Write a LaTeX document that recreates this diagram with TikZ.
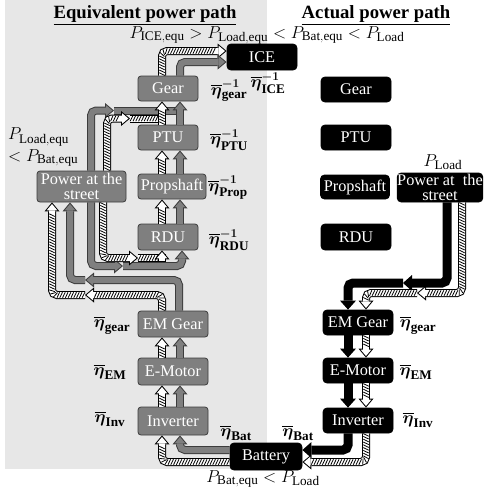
\documentclass[tikz,border=0pt]{standalone}
\usepackage{amsmath}
\usepackage{fontspec}
\setmainfont{Liberation Serif}
\usetikzlibrary{arrows.meta,decorations.markings}
\definecolor{bgc}{RGB}{231,231,231}
\definecolor{boxg}{RGB}{127,127,127}
\definecolor{bord}{RGB}{60,60,60}
\DeclareMathSizes{16.5}{16.5}{13.2}{10}
\DeclareMathSizes{18}{18}{14}{11}
\newcommand\boxfont{\fontsize{16.3}{17.5}\selectfont}
\newcommand\lblfont{\fontsize{16.5}{18}\selectfont}
\newcommand\etainv[1]{$\overline{\boldsymbol{\eta}}^{\boldsymbol{-1}}_{\mathbf{#1}}$}
\newcommand\etaone[1]{$\overline{\boldsymbol{\eta}}_{\mathbf{#1}}$}
\tikzset{
  arrbase/.style={rounded corners=5pt},
  garrout/.style={arrbase, line width=8pt, draw=bord, -{Triangle[width=15pt,length=9pt,line width=0pt]}},
  garrin/.style={arrbase, line width=6pt, draw=boxg, shorten >=1.6pt, -{Triangle[width=10.7pt,length=6.4pt,line width=0pt]}},
  harrout/.style={arrbase, line width=8pt, draw=black, -{Triangle[width=15pt,length=9pt,line width=0pt]}},
  harrin/.style={arrbase, line width=6pt, draw=white, shorten >=1.6pt, -{Triangle[width=10.7pt,length=6.4pt,line width=0pt]}},
  hstripes/.style={arrbase, decorate, decoration={markings,
     mark=between positions 1.5pt and -10pt step 2.8pt with {\draw[black,line width=0.8pt] (-1.3pt,-2.7pt) -- (1.3pt,2.7pt);}}},
  hstripesall/.style={arrbase, decorate, decoration={markings,
     mark=between positions 1.5pt and -1.5pt step 2.8pt with {\draw[black,line width=0.8pt] (-1.3pt,-2.7pt) -- (1.3pt,2.7pt);}}},
  karr/.style={arrbase, line width=9pt, draw=black, -{Triangle[width=16pt,length=9pt,line width=0pt]}},
  gbox/.style={draw=bord, fill=boxg, rounded corners=3pt, text=white, font=\boxfont, inner sep=0pt, line width=0.8pt, align=center},
  kbox/.style={draw=black, fill=black, rounded corners=4pt, text=white, font=\boxfont, inner sep=0pt, line width=0.8pt, align=center},
  lbl/.style={font=\lblfont, inner sep=0pt},
  ttl/.style={font=\fontsize{18.7}{20}\selectfont\bfseries, inner sep=0pt, anchor=base}
}
\newcommand\GArrow[1]{\draw[garrout] #1; \draw[garrin] #1;}
\newcommand\HArrow[1]{\draw[harrout] #1; \draw[harrin] #1; \path[hstripes] #1;}
\newcommand\KArrow[1]{\draw[karr] #1;}
\newcommand\GShaft[1]{\draw[arrbase, line width=8pt, draw=bord] #1; \draw[arrbase, line width=6pt, draw=boxg] #1;}
\newcommand\HShaft[1]{\draw[arrbase, line width=8pt, draw=black] #1; \draw[arrbase, line width=6pt, draw=white] #1; \path[hstripesall] #1;}
\begin{document}
\begin{tikzpicture}[x=1pt,y=-1pt]
\useasboundingbox (0,0) rectangle (483,499);
\fill[bgc] (5,0) rectangle (267,469);

% titles
\node[ttl] (t1) at (145,18) {\underline{Equivalent power path}};
\node[ttl] (t2) at (376,18) {\underline{Actual power path}};
\node[lbl, anchor=base] (rel) at (267,38) {$P_{\mathrm{ICE,equ}} > P_{\mathrm{Load,equ}} < P_{\mathrm{Bat,equ}} < P_{\mathrm{Load}}$};

% left boxes
\node[kbox, minimum width=70pt, minimum height=26pt] (ice) at (262,57) {ICE};
\node[gbox, minimum width=60pt, minimum height=25pt] (gear) at (168,88.5) {Gear};
\node[gbox, minimum width=60pt, minimum height=25pt] (ptu) at (168,137.5) {PTU};
\node[gbox, minimum width=68pt, minimum height=25pt] (prop) at (172,186.5) {Propshaft};
\node[gbox, minimum width=60pt, minimum height=26pt] (rdu) at (168,237) {RDU};
\node[gbox, minimum width=89pt, minimum height=31pt] (street) at (81.5,186.5) {Power at the\\[-2pt]street};
\node[gbox, minimum width=70pt, minimum height=26pt] (emg) at (173,324) {EM Gear};
\node[gbox, minimum width=70pt, minimum height=27pt] (emo) at (173,371.5) {E-Motor};
\node[gbox, minimum width=70pt, minimum height=28pt] (inv) at (173,421) {Inverter};
\node[kbox, minimum width=72pt, minimum height=27pt] (bat) at (266,456.5) {Battery};

% right boxes
\node[kbox, minimum width=70pt, minimum height=25pt] (rgear) at (356,89.5) {Gear};
\node[kbox, minimum width=70pt, minimum height=25pt] (rptu) at (356,137.5) {PTU};
\node[kbox, minimum width=69pt, minimum height=24pt] (rprop) at (355,187) {Propshaft};
\node[kbox, minimum width=70pt, minimum height=26pt] (rrdu) at (356,237) {RDU};
\node[kbox, minimum width=84pt, minimum height=29pt] (rstreet) at (440,187.5) {Power at~ the\\[-2pt]street};
\node[kbox, minimum width=70pt, minimum height=25pt] (remg) at (358,322.5) {EM Gear};
\node[kbox, minimum width=70pt, minimum height=25pt] (remo) at (358,370.5) {E-Motor};
\node[kbox, minimum width=70pt, minimum height=25pt] (rinv) at (358,420.5) {Inverter};

% labels
\node[lbl] (l1) at (229,91) {\etainv{gear}};
\node[lbl] (l2) at (268,83) {\etainv{ICE}};
\node[lbl] (l3) at (229,140) {\etainv{PTU}};
\node[lbl] (l4) at (228,188) {\etainv{Prop}};
\node[lbl] (l5) at (229,240) {\etainv{RDU}};
\node[lbl] (l6) at (112,325) {\etaone{gear}};
\node[lbl] (l7) at (110,372) {\etaone{EM}};
\node[lbl] (l8) at (110,419) {\etaone{Inv}};
\node[lbl] (l9) at (236,433) {\etaone{Bat}};
\node[lbl] (l10) at (298,433) {\etaone{Bat}};
\node[lbl] (l11) at (418,325) {\etaone{gear}};
\node[lbl] (l12) at (416,372) {\etaone{EM}};
\node[lbl] (l13) at (418,420) {\etaone{Inv}};
\node[lbl, anchor=west] (p1) at (8,137) {$P_{\mathrm{Load,equ}}$};
\node[lbl, anchor=west] (p2) at (8,158) {$< P_{\mathrm{Bat,equ}}$};
\node[lbl] (p3) at (443,162) {$P_{\mathrm{Load}}$};
\node[lbl, anchor=base] (p4) at (263,482) {$P_{\mathrm{Bat,equ}} < P_{\mathrm{Load}}$};

% ---- left arrows ----
\HArrow{(162,0 |- gear.north) |- (ice.west |- 0,51)}
\GArrow{(180,0 |- gear.north) |- (ice.west |- 0,62)}

% street -> gear
\GShaft{(114,110.5) -- (184,110.5)}
\GArrow{(91,0 |- street.north) |- (114,110.5)}
\HShaft{(130,118.5) -- (166,118.5)}
\HArrow{(107,0 |- street.north) |- (130,118.5)}

\HArrow{(162,0 |- ptu.north) -- (162,0 |- gear.south)}
\GArrow{(180,0 |- ptu.north) -- (180,0 |- gear.south)}
\HArrow{(162,0 |- prop.north) -- (162,0 |- ptu.south)}
\GArrow{(180,0 |- prop.north) -- (180,0 |- ptu.south)}
\HArrow{(162,0 |- rdu.north) -- (162,0 |- prop.south)}
\GArrow{(180,0 |- rdu.north) -- (180,0 |- prop.south)}

% street -> rdu
\GArrow{(123,266) -| (182,0 |- rdu.south)}
\GArrow{(91,0 |- street.south) |- (123,266)}
\HShaft{(138,258) -- (166,258)}
\HArrow{(162,260.5) -- (162,0 |- rdu.south)}
\HArrow{(103,0 |- street.south) |- (138,258)}

% em gear -> street
\HArrow{(85,295) -| (52,0 |- street.south)}
\HArrow{(162,0 |- emg.north) |- (85,295)}
\GArrow{(85,280) -| (70,0 |- street.south)}
\GArrow{(179,0 |- emg.north) |- (85,280)}

\HArrow{(162,0 |- emo.north) -- (162,0 |- emg.south)}
\GArrow{(180,0 |- emo.north) -- (180,0 |- emg.south)}
\HArrow{(162,0 |- inv.north) -- (162,0 |- emo.south)}
\GArrow{(180,0 |- inv.north) -- (180,0 |- emo.south)}

\GArrow{(bat.west |- 0,450) -| (180,0 |- inv.south)}
\HArrow{(bat.west |- 0,462) -| (162,0 |- inv.south)}

% ---- right arrows ----
\KArrow{(403,283) -| (348,0 |- remg.north)}
\KArrow{(447,0 |- rstreet.south) |- (403,283)}
\HArrow{(417,293) -| (366,0 |- remg.north)}
\HArrow{(462,0 |- rstreet.south) |- (417,293)}

\KArrow{(348,0 |- remg.south) -- (348,0 |- remo.north)}
\HArrow{(366,0 |- remg.south) -- (366,0 |- remo.north)}
\KArrow{(348,0 |- remo.south) -- (348,0 |- rinv.north)}
\HArrow{(366,0 |- remo.south) -- (366,0 |- rinv.north)}

\KArrow{(348,0 |- rinv.south) |- (bat.east |- 0,450)}
\HArrow{(366,0 |- rinv.south) |- (bat.east |- 0,462)}
\end{tikzpicture}
\end{document}
